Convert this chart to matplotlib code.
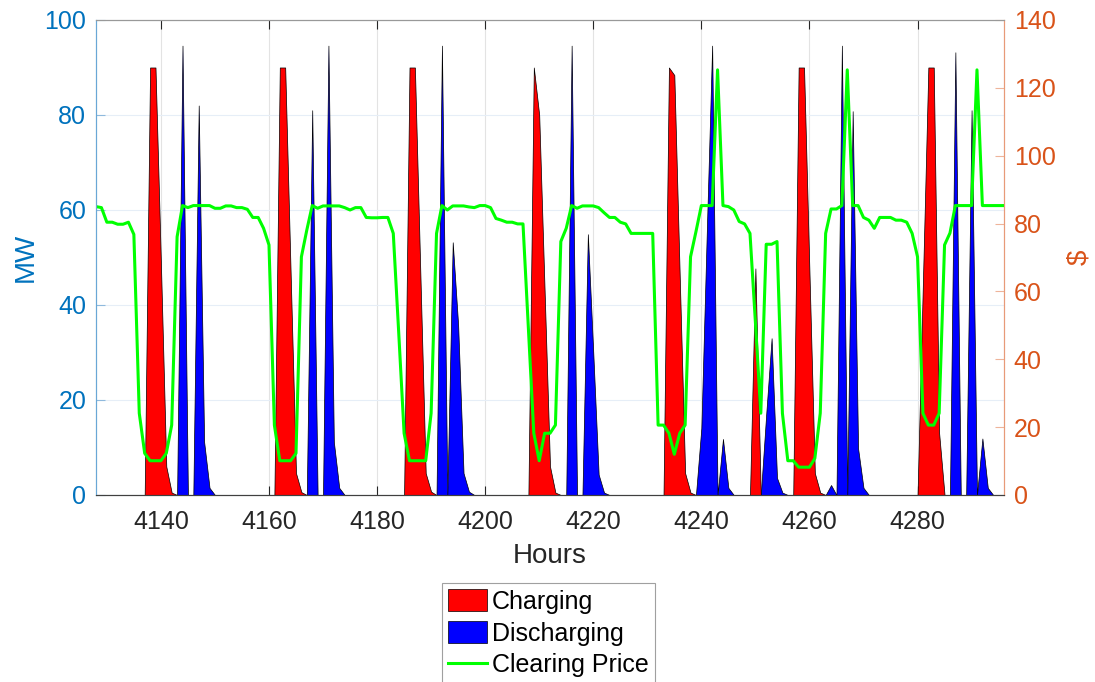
import numpy as np
import matplotlib
matplotlib.use('Agg')
import matplotlib.pyplot as plt
from matplotlib.patches import Patch
from matplotlib.lines import Line2D

plt.rcParams['font.family'] = ['Liberation Sans', 'DejaVu Sans']

hours = np.arange(4128, 4297)

# clearing price ($), one value per hour 4128..4296
price = [85.0, 84.7, 80.4, 80.4, 79.8, 79.8, 80.4, 76.8, 24.1, 12.3,
         10.1, 10.1, 10.1, 12.3, 20.6, 76.1, 85.3, 84.7, 85.3, 85.3,
         85.3, 85.3, 84.5, 84.5, 85.2, 85.2, 84.7, 84.7, 84.2, 81.8,
         81.8, 78.6, 73.7, 20.6, 10.1, 10.1, 10.1, 12.3, 70.2, 78.1,
         85.3, 84.5, 85.2, 85.2, 85.2, 85.2, 84.7, 84.0, 84.7, 84.7,
         81.8, 81.7, 81.7, 81.8, 81.8, 77.1, 48.0, 18.2, 10.1, 10.1,
         10.1, 10.1, 24.1, 77.1, 85.3, 84.0, 85.2, 85.2, 85.2, 84.9,
         84.7, 85.3, 85.3, 84.7, 81.5, 81.0, 80.4, 80.4, 79.9, 79.9,
         49.0, 18.2, 10.1, 18.2, 18.2, 20.6, 74.7, 78.6, 85.3, 84.5,
         85.2, 85.2, 85.2, 84.7, 83.2, 81.8, 81.8, 80.4, 79.9, 77.1,
         77.1, 77.1, 77.1, 77.1, 20.6, 20.6, 18.2, 12.0, 18.2, 20.6,
         70.2, 77.6, 85.3, 85.3, 85.3, 125.3, 85.3, 85.0, 84.0, 80.6,
         79.9, 77.1, 51.0, 24.1, 73.9, 73.9, 74.7, 24.1, 10.1, 10.1,
         8.2, 8.2, 8.2, 10.8, 24.1, 77.1, 84.3, 84.3, 85.3, 125.3,
         85.3, 85.3, 81.8, 81.0, 78.6, 81.8, 81.8, 81.8, 81.0, 81.0,
         80.4, 77.1, 70.2, 24.1, 20.6, 20.6, 24.1, 73.7, 77.2, 85.3,
         85.3, 85.3, 85.3, 125.3, 85.3, 85.3, 85.3, 85.3, 85.3]

# non-zero hours of charging / discharging (MW)
charge_hours = [4138, 4139, 4140, 4141, 4142,
                4162, 4163, 4164, 4165, 4166,
                4186, 4187, 4188, 4189, 4190,
                4209, 4210, 4211, 4212, 4213,
                4234, 4235, 4236, 4237, 4238,
                4250,
                4258, 4259, 4260, 4261, 4262,
                4281, 4282, 4283, 4284]
charge_mw = [90, 90, 49, 6, 0.5,
             90, 90, 47, 4.6, 0.6,
             90, 90, 47, 4.6, 0.7,
             90, 80, 43, 6.0, 0.5,
             90, 88.4, 46, 4.6, 0.5,
             47.7,
             90, 90, 47, 4.6, 0.5,
             45, 90, 90, 13]

discharge_hours = [4144, 4147, 4148, 4149,
                   4168, 4171, 4172, 4173,
                   4192, 4194, 4195, 4196, 4197,
                   4216, 4219, 4220, 4221, 4222,
                   4240, 4241, 4242, 4244, 4245,
                   4252, 4253, 4254, 4255,
                   4264, 4266, 4268, 4269, 4270,
                   4287, 4290, 4292, 4293]
discharge_mw = [94.6, 82, 11.2, 1.5,
                81, 94.6, 11.2, 1.5,
                94.6, 53.2, 35.8, 4.6, 0.7,
                94.6, 54.9, 30, 4.3, 0.5,
                14.1, 55, 94.6, 11.8, 1.5,
                17, 33, 3.6, 0.5,
                2.1, 94.6, 80.8, 9.8, 1.5,
                93.2, 81, 11.9, 1.5]

charging = np.zeros(len(hours))
charging[np.searchsorted(hours, charge_hours)] = charge_mw
discharging = np.zeros(len(hours))
discharging[np.searchsorted(hours, discharge_hours)] = discharge_mw

blue_ax = '#0072BD'
orange_ax = '#D95319'

fig = plt.figure(figsize=(10.95, 6.82), dpi=100)
ax = fig.add_axes([0.0877, 0.2742, 0.8292, 0.6965])
ax2 = ax.twinx()

ax.fill_between(hours, charging, 0, facecolor='#ff0000', edgecolor='black', linewidth=0.5)
ax.fill_between(hours, discharging, 0, facecolor='#0000ff', edgecolor='black', linewidth=0.5)
ax2.plot(hours, price, color='#00ff00', linewidth=2.2)

ax.set_xlim(4128, 4296)
ax.set_ylim(0, 100)
ax2.set_ylim(0, 140)
ax.set_xticks(np.arange(4140, 4281, 20))
ax.set_yticks(np.arange(0, 101, 20))
ax2.set_yticks(np.arange(0, 141, 20))

ax.grid(True, axis='x', color='#e3e3e3', linewidth=0.8)
ax.grid(True, axis='y', color='#e6eef7', linewidth=0.8)
ax.set_axisbelow(True)

ax.tick_params(axis='x', direction='in', length=6.5, top=True, colors='#262626',
               labelsize=18, pad=11)
ax.tick_params(axis='y', direction='in', length=6.5, colors='#8fb9dd',
               labelcolor=blue_ax, labelsize=18, pad=7)
ax2.tick_params(axis='y', direction='in', length=6.5, colors='#eeb49a',
                labelcolor=orange_ax, labelsize=18, pad=7)

for a in (ax, ax2):
    a.spines['top'].set_color('#999999')
    a.spines['bottom'].set_color('#404040')
    a.spines['left'].set_color('#6aa7d6')
    a.spines['right'].set_color('#e89a78')

ax.set_xlabel('Hours', fontsize=20, color='#262626', labelpad=6)
ax.set_ylabel('MW', fontsize=20, color=blue_ax, labelpad=4)
ax2.set_ylabel('$', fontsize=20, color=orange_ax, labelpad=8)

handles = [Patch(facecolor='#ff0000', edgecolor='black', linewidth=0.5),
           Patch(facecolor='#0000ff', edgecolor='black', linewidth=0.5),
           Line2D([], [], color='#00ff00', linewidth=2.2)]
leg = fig.legend(handles, ['Charging', 'Discharging', 'Clearing Price'],
                 loc='upper center', bbox_to_anchor=(0.501, 0.145), fontsize=18,
                 fancybox=False, edgecolor='#a0a0a0', framealpha=1,
                 handlelength=1.55, handleheight=0.95, handletextpad=0.2,
                 labelspacing=0.3, borderpad=0.25, borderaxespad=0)
leg.get_frame().set_linewidth(0.8)

fig.savefig('out.png', dpi=100)
